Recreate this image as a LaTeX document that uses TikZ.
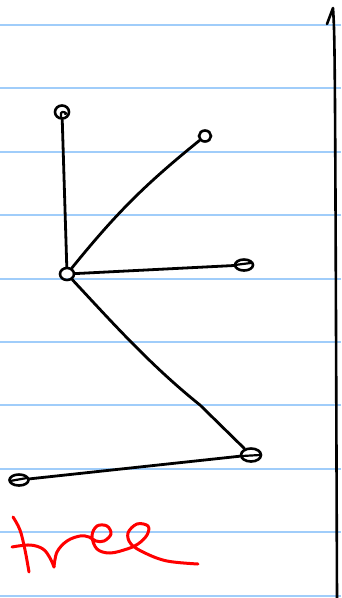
\documentclass[tikz,border=0pt]{standalone}
\usetikzlibrary{shapes.geometric}
\begin{document}
\begin{tikzpicture}[x=1pt,y=-1pt,
  ruleline/.style={draw=paperblue,line width=2pt},
  ink/.style={line width=2.8pt,line cap=round,line join=round},
  dot/.style={ellipse,draw,line width=2.6pt,inner sep=0pt},
  redink/.style={draw=red,line width=3pt,line cap=round,line join=round}]
\definecolor{paperblue}{RGB}{160,205,250}
\useasboundingbox[fill=white] (0,0) rectangle (341,598);
\foreach \k in {0,...,9}{
  \draw[ruleline] (0,{25+63.4*\k}) -- (341,{25+63.4*\k});
}
% margin line
\draw[ink,line width=2.6pt] (327,24) -- (333,8) .. controls (335,40) .. (337,598);
% nodes
\node[dot,minimum width=14pt,minimum height=13pt] (top) at (62,112) {};
\node[dot,minimum width=12pt,minimum height=11pt] (ur) at (205,136) {};
\node[dot,minimum width=18pt,minimum height=11pt] (r) at (244,265) {};
\node[dot,minimum width=14pt,minimum height=12pt] (c) at (67,274) {};
\node[dot,minimum width=20pt,minimum height=13pt] (lr) at (251,455) {};
\node[dot,minimum width=19pt,minimum height=11pt] (ll) at (19,480) {};
% inner curls
\draw[ink,line width=2.2pt] (top.center) ++(-1,6) -- ++(0,-5) .. controls ++(1,-3) and ++(4,0) .. ++(4,1);
\draw[ink,line width=2.2pt] (r.west) ++(1,0) -- ++(16,-2);
\draw[ink,line width=2.2pt] (lr.center) ++(-9,1) -- ++(18,-1);
\draw[ink,line width=2.2pt] (ll.center) ++(-9,1) -- ++(17,-3);
% edges
\draw[ink] (top) -- (c);
\draw[ink] (c) to[bend left=6] (ur);
\draw[ink] (c) -- (r);
\draw[ink] (c) .. controls (110,320) and (150,365) .. (200,405) -- (lr);
\draw[ink] (lr) -- (ll);
% red "tree"
\draw[redink] plot[smooth,tension=0.6] coordinates {(13,517) (20,530) (25,550) (29,572)};
\draw[redink] plot[smooth,tension=0.6] coordinates {(12,547) (30,545) (43,549) (50,558) (54,567)};
\draw[redink] plot[smooth,tension=0.6] coordinates {(54,567) (57,552) (67,541) (80,536) (89,537) (96,541) (104,541) (111,534) (107,526) (97,526) (92,536) (97,549) (110,553) (127,549) (138,544) (147,535) (148,526) (137,524) (128,533) (131,544) (145,553) (167,561) (198,564)};
\end{tikzpicture}
\end{document}
